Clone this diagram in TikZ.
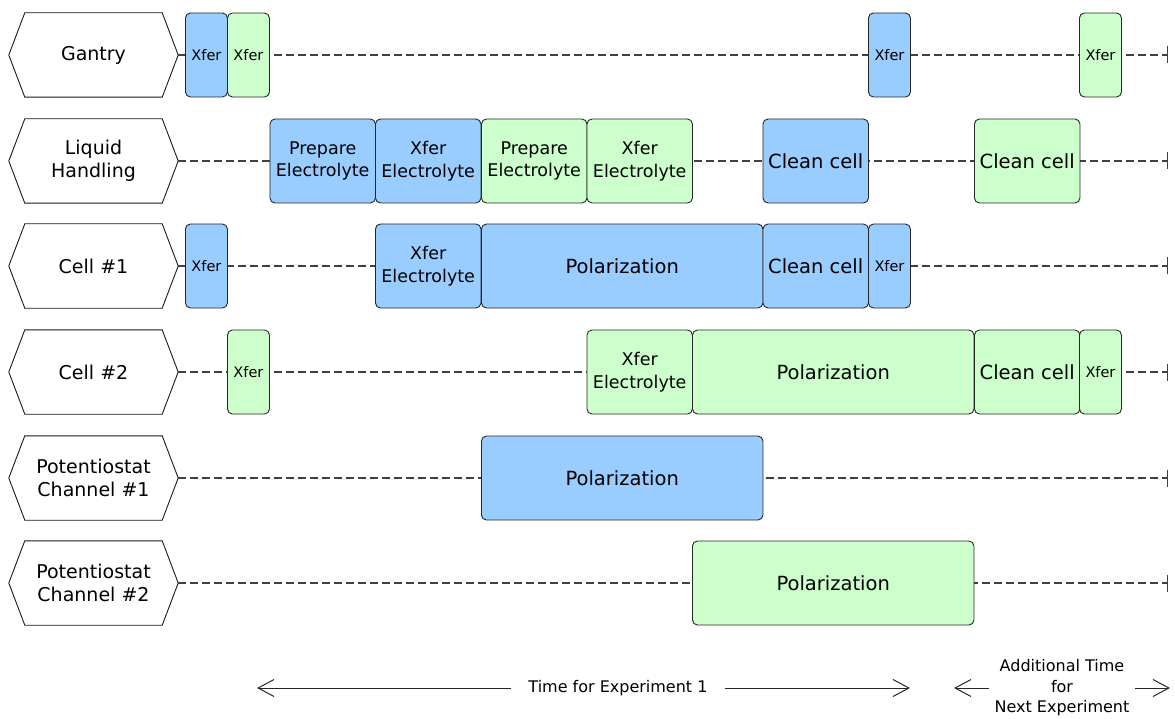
\documentclass[tikz,border=0pt]{standalone}
\usepackage{fontspec}
\setmainfont{DejaVu Sans}
\usetikzlibrary{arrows.meta}
\definecolor{bfill}{HTML}{99CCFF}
\definecolor{gfill}{HTML}{CCFFCC}
\definecolor{dline}{HTML}{404040}
\begin{document}
\begin{tikzpicture}[x=1pt,y=-1pt,
  lab/.style={minimum width=169pt, minimum height=84pt, inner sep=0pt, align=center, font=\fontsize{19}{23}\selectfont},
  hex/.style={draw=black!90, line width=0.9pt, fill=white},
  task/.style={draw=black!85, line width=0.9pt, rounded corners=5pt, minimum height=84pt, inner sep=0pt, align=center, anchor=west},
  blu/.style={task, fill=bfill},
  grn/.style={task, fill=gfill},
  big/.style={font=\fontsize{19.5}{23}\selectfont},
  two/.style={font=\fontsize{17.5}{22.5}\selectfont},
  sm/.style={font=\fontsize{14.5}{17}\selectfont, minimum width=42pt},
  wd/.style={minimum width=105.5pt},
  pol/.style={minimum width=281.5pt, font=\fontsize{19.5}{23}\selectfont},
  lane/.style={draw=dline, line width=1.2pt, dash pattern=on 8pt off 4pt, -{Bar[width=17pt,line width=1.4pt]}},
  dim/.style={draw=black!85, line width=1pt, -{Straight Barb[length=16pt,width=17pt]}},
  note/.style={font=\fontsize{16}{20.5}\selectfont, align=center}
]
\useasboundingbox (0,0) rectangle (1175,719);

% lane labels and lanes
\foreach \n/\y/\t in {gan/55/{Gantry}, liq/161/{Liquid\\Handling}, ce1/266/{Cell \#1}, ce2/372/{Cell \#2}, po1/478/{Potentiostat\\Channel \#1}, po2/583/{Potentiostat\\Channel \#2}}{
  \node[lab] (\n) at (93.5,\y) {\t};
  \draw[hex] (\n.west) -- ([xshift=16pt]\n.north west) -- ([xshift=-16pt]\n.north east) -- (\n.east) -- ([xshift=-16pt]\n.south east) -- ([xshift=16pt]\n.south west) -- cycle;
  \node[lab] at (\n) {\t};
  \coordinate (\n-end) at (1168,\y);
  \draw[lane] (\n.east) -- (\n-end);
}

% Gantry
\node[blu, sm] (g1) at (185,55) {Xfer};
\node[grn, sm] (g2) at (227,55) {Xfer};
\node[blu, sm] (g3) at (868,55) {Xfer};
\node[grn, sm] (g4) at (1079,55) {Xfer};

% Liquid handling
\node[blu, wd, two] (l1) at (269.5,161) {Prepare\\Electrolyte};
\node[blu, wd, two] (l2) at (375,161) {Xfer\\Electrolyte};
\node[grn, wd, two] (l3) at (481,161) {Prepare\\Electrolyte};
\node[grn, wd, two] (l4) at (586.5,161) {Xfer\\Electrolyte};
\node[blu, wd, big] (l5) at (762.5,161) {Clean cell};
\node[grn, wd, big] (l6) at (974,161) {Clean cell};

% Cell 1
\node[blu, sm] (c1) at (185,266) {Xfer};
\node[blu, wd, two] (c2) at (375,266) {Xfer\\Electrolyte};
\node[blu, pol] (c3) at (481,266) {Polarization};
\node[blu, wd, big] (c4) at (762.5,266) {Clean cell};
\node[blu, sm] (c5) at (868,266) {Xfer};

% Cell 2
\node[grn, sm] (d1) at (227,372) {Xfer};
\node[grn, wd, two] (d2) at (586.5,372) {Xfer\\Electrolyte};
\node[grn, pol] (d3) at (692,372) {Polarization};
\node[grn, wd, big] (d4) at (974,372) {Clean cell};
\node[grn, sm] (d5) at (1079,372) {Xfer};

% Potentiostats
\node[blu, pol] (p1) at (481,478) {Polarization};
\node[grn, pol] (p2) at (692,583) {Polarization};

% time spans
\node[note, inner xsep=17pt] (t1) at (618,688) {Time for Experiment 1};
\coordinate (t1a) at (257,688);
\coordinate (t1b) at (910,688);
\draw[dim] (t1) -- (t1a);
\draw[dim] (t1) -- (t1b);

\node[note, inner xsep=5pt] (t2) at (1062,688) {Additional Time\\for\\Next Experiment};
\coordinate (t2a) at (954,688);
\coordinate (t2b) at (1170,688);
\draw[dim] (t2) -- (t2a);
\draw[dim] (t2) -- (t2b);
\end{tikzpicture}
\end{document}
